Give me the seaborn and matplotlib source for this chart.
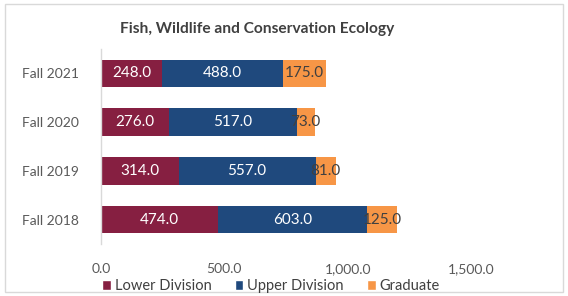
import pandas as pd
import matplotlib
matplotlib.use("Agg")
import matplotlib.pyplot as plt
import seaborn as sns
from matplotlib.patches import Patch, Rectangle

# Enrollment by level
terms = ["Fall 2021", "Fall 2020", "Fall 2019", "Fall 2018"]
lower = [248, 276, 314, 474]
upper = [488, 517, 557, 603]
graduate = [175, 73, 81, 125]

colors = {"Lower Division": "#861F41", "Upper Division": "#1F497D", "Graduate": "#F79646"}

df = pd.DataFrame({"Term": terms, "Lower": lower, "Upper": upper, "Graduate": graduate})
df["LU"] = df["Lower"] + df["Upper"]
df["Total"] = df["LU"] + df["Graduate"]

sns.set_theme(style="white")
plt.rcParams["font.family"] = ["Lato", "DejaVu Sans"]

fig = plt.figure(figsize=(5.68, 2.96), dpi=100)
ax = fig.add_axes([0.178, 0.176, 0.651, 0.658])

# stacked by overlaying cumulative totals
for col, key in [("Total", "Graduate"), ("LU", "Upper Division"), ("Lower", "Lower Division")]:
    sns.barplot(data=df, x=col, y="Term", order=terms, color=colors[key],
                orient="h", width=0.57, saturation=1, linewidth=0, ax=ax)

for i, row in df.iterrows():
    ax.text(row["Lower"] / 2, i, f"{row['Lower']:.1f}", ha="center", va="center",
            color="white", fontsize=11)
    ax.text(row["Lower"] + row["Upper"] / 2, i, f"{row['Upper']:.1f}", ha="center",
            va="center", color="white", fontsize=11)
    ax.text(row["LU"] + row["Graduate"] / 2, i, f"{row['Graduate']:.1f}", ha="center",
            va="center", color="#404040", fontsize=11)

ax.set_xlim(0, 1500)
ax.set_ylim(3.5, -0.5)
ax.set_xticks([0, 500, 1000, 1500])
ax.set_xticklabels(["0.0", "500.0", "1,000.0", "1,500.0"])
ax.set_xlabel("")
ax.set_ylabel("")
ax.tick_params(axis="both", length=0, labelsize=10, labelcolor="#595959")
ax.tick_params(axis="x", pad=14)
ax.tick_params(axis="y", pad=16)
for s in ["top", "right", "bottom"]:
    ax.spines[s].set_visible(False)
ax.spines["left"].set_color("#D9D9D9")
ax.spines["left"].set_linewidth(1)

fig.suptitle("Fish, Wildlife and Conservation Ecology", x=0.453, y=0.925,
             fontsize=11.2, fontweight="bold", color="#404040")

handles = [Patch(facecolor=c, label=k) for k, c in colors.items()]
fig.legend(handles=handles, loc="center", bbox_to_anchor=(0.477, 0.033), ncol=3,
           frameon=False, fontsize=10.5, handlelength=0.6, handleheight=0.6,
           handletextpad=0.25, columnspacing=1.6, labelcolor="#404040")

fig.patches.append(Rectangle((0.008, 0.012), 0.984, 0.976, transform=fig.transFigure,
                             fill=False, edgecolor="#D9D9D9", linewidth=1))

fig.savefig("out.png", dpi=100)
